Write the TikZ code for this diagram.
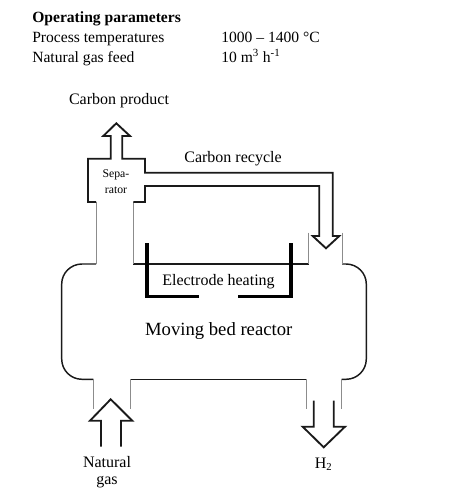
\documentclass[tikz,border=0pt]{standalone}
\usepackage{fontspec}
\setmainfont{Liberation Serif}
\usetikzlibrary{positioning}
\definecolor{wallDark}{HTML}{1A1A1A}
\definecolor{neckGray}{HTML}{8C8C8C}

\begin{document}
\begin{tikzpicture}[
        x=0.75pt, y=-0.75pt,
        param/.style={inner sep=0pt, font=\fontsize{11.7}{13}\selectfont, text height=7.5pt, text depth=2pt},
        label/.style={inner sep=0pt, align=center, font=\fontsize{12}{12.6}\selectfont},
        wall/.style={draw=wallDark, line width=1.1pt, line join=miter},
        neck/.style={draw=neckGray, line width=0.7pt},
        pipe/.style={draw=wallDark, line width=1.4pt, line join=miter},
        electrode/.style={draw=black, line width=2.4pt, line join=miter},
        node distance=15pt
      ]
        \useasboundingbox (0,0) rectangle (467,497);

        % operating parameters
        \node[param, anchor=west, font=\fontsize{11.7}{13}\selectfont\bfseries] (title) at (32,18.5) {Operating parameters};
        \node[param, below=of title.west, anchor=west]  (temp) {Process temperatures};
        \node[param, below=of temp.west, anchor=west]   (feed) {Natural gas feed};
        \node[param, anchor=west] (tempval) at (221,38.5) {1000 – 1400 °C};
        \node[param, below=of tempval.west, anchor=west] (feedval) {10 m\textsuperscript{3} h\textsuperscript{-1}};

        % reactor
        \draw[wall] (96,264) -- (82,264) to[out=180, in=90] (61.7,284) -- (61.7,359)
          to[out=270, in=180] (82,379.3) -- (93.3,379.3);
        \draw[wall] (130,379.3) -- (306.7,379.3);
        \draw[wall] (341.7,379.3) -- (346,379.3) to[out=0, in=270] (366.3,359) -- (366.3,284)
          to[out=90, in=0] (346,264) -- (342,264);
        \draw[wall] (133.3,264) -- (308.7,264);

        % necks
        \draw[neck] (96,202) -- (96,264);
        \draw[neck] (133.3,202) -- (133.3,264);
        \draw[neck] (308.7,232.7) -- (308.7,264);
        \draw[neck] (342,232.7) -- (342,264);
        \draw[neck] (93.3,379.3) -- (93.3,409.3);
        \draw[neck] (130,379.3) -- (130,409.3);
        \draw[neck] (306.7,379.3) -- (306.7,409.3);
        \draw[neck] (341.7,379.3) -- (341.7,409.3);

        % separator, product outlet and recycle
        \draw[pipe] (96,202) -- (88,202) -- (88,158.7) -- (110.7,158.7) -- (110.7,136) -- (103.3,136)
          -- (116.3,123.3) -- (130,136) -- (122.3,136) -- (122.3,158.7) -- (145,158.7) -- (145,172.7)
          -- (332.7,172.7) -- (332.7,236) -- (339.3,236) -- (326,248.3) -- (312.7,236) -- (319.3,236)
          -- (319.3,186) -- (145,186) -- (145,202) -- (133.3,202);

        % feed and hydrogen
        \draw[pipe] (101,446.7) -- (101,420.7) -- (90,420.7) -- (110.7,399.3) -- (132.3,420.7)
          -- (121,420.7) -- (121,446.7);
        \draw[pipe] (313.7,400.7) -- (313.7,426.7) -- (302.7,426.7) -- (323.7,447.3) -- (345,426.7)
          -- (333.7,426.7) -- (333.7,400.7);

        % electrodes
        \draw[electrode] (147,243.3) -- (147,296.7) -- (198.7,296.7);
        \draw[electrode] (291,243.3) -- (291,296.7) -- (238.3,296.7);

        \node[label] (product) at (119,101) {Carbon product};
        \node[label] (recycle) at (233,158.5) {Carbon recycle};
        \node[label, font=\fontsize{8.8}{12}\selectfont] (separator) at (116,182) {Sepa-\\rator};
        \node[label] (heating) at (218.5,282) {Electrode heating};
        \node[label, font=\fontsize{14}{16}\selectfont] (reactor) at (218.7,331) {Moving bed reactor};
        \node[label] (gas) at (107,472) {Natural\\gas};
        \node[label] (hydrogen) at (323.7,464) {H\textsubscript{2}};
      \end{tikzpicture}
\end{document}
